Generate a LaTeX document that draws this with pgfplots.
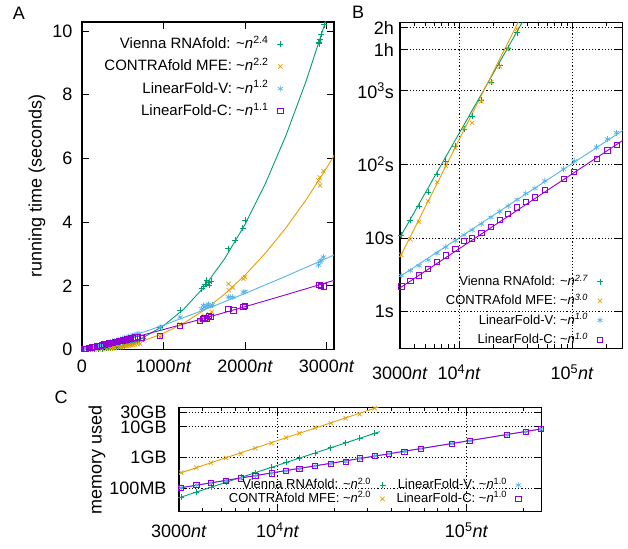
\documentclass[border=0pt]{standalone}
\usepackage{fontspec}
\setmainfont{Liberation Sans}
\usepackage{pgfplots}
\pgfplotsset{compat=1.18}
\definecolor{cV}{HTML}{009E73}
\definecolor{cC}{HTML}{E69F00}
\definecolor{cLV}{HTML}{56B4E9}
\definecolor{cLC}{HTML}{9400D3}
\newcommand\tf{\fontsize{18}{20}\selectfont}
\newcommand\nt{\textit{nt}}
\newcommand\tl{\textasciitilde}
\pgfplotsset{
  base/.style={
    scale only axis, anchor=south west,
    axis line style={line width=1.1pt},
    every tick/.style={black, line width=0.8pt},
    major tick length=7pt, minor tick length=4pt,
    tick label style={font=\tf, inner sep=0pt},
    label style={font=\tf},
    legend plot pos=right, legend cell align=right,
  },
  fitline/.style={line width=0.9pt, no marks, forget plot},
  limg/.style={legend image code/.code={\path[draw=none,fill=none] (0pt,0pt) -- (14pt,0pt); \draw[##1, only marks] plot coordinates {(11pt,0pt)};}},
  sV/.style={only marks, mark=+, color=cV, mark size=3pt, mark options={line width=0.7pt}, limg},
  sC/.style={only marks, mark=x, color=cC, mark size=3pt, mark options={line width=0.7pt}, limg},
  sLV/.style={only marks, mark=asterisk, color=cLV, mark size=3pt, mark options={line width=0.7pt}, limg},
  sLC/.style={only marks, mark=square, color=cLC, mark size=2.6pt, mark options={line width=0.7pt}, limg},
}
\begin{document}
\begin{tikzpicture}
\useasboundingbox (0,0) rectangle (628pt,548pt);
% ---------------- Panel A ----------------
\begin{axis}[base, at={(82pt,198.5pt)}, width=252pt, height=327.5pt,
  xmin=0, xmax=3090, ymin=0, ymax=10.28,
  xtick={0,1000,2000,3000}, xticklabels={0,1000\nt,2000\nt,3000\nt},
  ytick={0,2,4,6,8,10}, yticklabels={0,2,4,6,8,10},
  x tick label style={anchor=base, yshift=-23.5pt},
  y tick label style={anchor=east, xshift=-9.3pt},
  ylabel={running time (seconds)},
  ylabel style={at={(axis description cs:-0.179,0.5)}, anchor=center},
  legend style={at={(axis description cs:0.799,0.958)}, anchor=north east, draw=none, fill=none,
    inner sep=0pt, outer sep=0pt, row sep=5.2pt, font=\fontsize{15}{17}\selectfont,
    nodes={inner sep=1pt, text height=12pt, text depth=3pt}},
]
\addplot[fitline, cV] coordinates {(0,0)(250,0.027)(500,0.141)(750,0.373)(1000,0.745)(1250,1.272)(1500,1.971)(1750,2.853)(2000,3.930)(2250,5.215)(2500,6.714)(2750,8.440)(3000,10.4)};
\addplot[sV] coordinates {(60,0.003)(100,0.005)(150,0.01)(200,0.015)(250,0.025)(300,0.035)(325,0.04)(350,0.05)(375,0.06)(400,0.07)(425,0.08)(450,0.09)(475,0.1)(500,0.12)(525,0.14)(550,0.16)(575,0.18)(600,0.2)(625,0.22)(650,0.25)(675,0.27)(700,0.3)(752,0.34)(957,0.68)(1202,1.23)(1469,1.91)(1490,1.97)(1510,2.05)(1530,2.17)(1545,2.1)(1562,2.01)(1580,2.15)(1795,3.17)(1877,3.43)(1971,3.80)(2000,4.06)(2900,9.65)(2910,9.6)(2920,9.75)(2930,9.9)(2970,10.2)};
\addlegendentry{Vienna RNAfold: \tl\textit{n}\textsuperscript{2.4}}
\addplot[fitline, cC] coordinates {(0,0)(250,0.024)(500,0.111)(750,0.27)(1000,0.508)(1250,0.831)(1500,1.240)(1750,1.741)(2000,2.336)(2250,3.027)(2500,3.817)(2750,4.707)(3000,5.70)(3100,6.13)};
\addplot[sC] coordinates {(100,0.002)(150,0.005)(200,0.008)(250,0.015)(300,0.025)(350,0.035)(375,0.04)(400,0.05)(450,0.065)(475,0.075)(500,0.085)(525,0.1)(550,0.11)(575,0.12)(600,0.13)(625,0.14)(650,0.16)(680,0.17)(712,0.18)(957,0.39)(1202,0.79)(1448,0.91)(1480,1.0)(1500,1.05)(1530,0.97)(1560,1.1)(1590,1.18)(1795,2.06)(1800,1.86)(1849,1.94)(1979,2.22)(2000,2.27)(2900,5.3)(2915,5.4)(2920,5.15)(2960,5.6)};
\addlegendentry{CONTRAfold MFE: \tl\textit{n}\textsuperscript{2.2}}
\addplot[fitline, cLV] coordinates {(0,0)(100,0.048)(250,0.145)(500,0.334)(750,0.543)(1000,0.766)(1500,1.246)(2000,1.76)(2500,2.300)(3000,2.863)(3100,2.978)};
\addplot[sLV] coordinates {(30,0.02)(60,0.04)(75,0.05)(100,0.06)(125,0.08)(150,0.09)(175,0.1)(200,0.12)(225,0.13)(250,0.15)(275,0.17)(300,0.19)(325,0.2)(350,0.22)(375,0.25)(400,0.26)(425,0.28)(450,0.3)(475,0.31)(500,0.34)(525,0.37)(550,0.38)(575,0.41)(600,0.42)(625,0.44)(650,0.46)(675,0.48)(700,0.5)(957,0.70)(1202,1.02)(1469,1.28)(1489,1.38)(1510,1.32)(1530,1.38)(1550,1.42)(1580,1.35)(1600,1.4)(1795,1.65)(1816,1.64)(1849,1.64)(1979,1.80)(2000,1.82)(2900,2.65)(2920,2.75)(2930,2.8)(2960,2.9)};
\addlegendentry{LinearFold-V: \tl\textit{n}\textsuperscript{1.2}}
\addplot[fitline, cLC] coordinates {(0,0)(100,0.050)(250,0.137)(500,0.293)(750,0.457)(1000,0.627)(1500,0.980)(2000,1.344)(2500,1.718)(3000,2.10)(3100,2.177)};
\addplot[sLC] coordinates {(20,0.01)(35,0.02)(50,0.03)(80,0.05)(100,0.06)(120,0.07)(140,0.08)(160,0.09)(180,0.1)(200,0.11)(225,0.12)(250,0.14)(275,0.16)(300,0.17)(325,0.19)(350,0.2)(375,0.22)(400,0.23)(425,0.25)(450,0.26)(475,0.27)(500,0.29)(525,0.31)(550,0.32)(575,0.34)(600,0.35)(625,0.37)(650,0.38)(680,0.4)(731,0.36)(957,0.44)(1202,0.75)(1448,0.91)(1480,0.95)(1500,1.0)(1530,0.97)(1560,1.05)(1580,1.02)(1795,1.28)(1857,1.23)(1979,1.33)(2000,1.36)(2910,2.03)(2930,2.0)(2970,1.98)};
\addlegendentry{LinearFold-C: \tl\textit{n}\textsuperscript{1.1}}
\end{axis}
% ---------------- Panel B ----------------
\begin{axis}[base, at={(400pt,199.7pt)}, width=222.7pt, height=326pt,
  xmode=log, ymode=log, xmin=3000, xmax=280000, ymin=0.318, ymax=8470,
  xtick={3000,10000,100000}, xticklabels={3000\nt,10\textsuperscript{4}\nt,10\textsuperscript{5}\nt},
  minor xtick={4000,5000,6000,7000,8000,9000,20000,30000,40000,50000,60000,70000,80000,90000,200000},
  ytick={1,10,100,1000,3600,7200}, yticklabels={1s,10s,10\textsuperscript{2}s,10\textsuperscript{3}s,1h,2h},
  minor ytick={},
  grid=major, major grid style={black, line width=0.7pt, dash pattern=on 1.2pt off 2pt},
  x tick label style={anchor=base, yshift=-31.7pt},
  y tick label style={anchor=east, xshift=-6pt},
  legend style={at={(axis description cs:0.9115,0.2275)}, anchor=north east, draw=none, fill=none,
    inner sep=0pt, outer sep=0pt, row sep=4.3pt, font=\fontsize{13}{15}\selectfont,
    nodes={inner sep=1pt, text height=10.5pt, text depth=2.5pt}},
]
\addplot[fitline, cV] coordinates {(3000,10.2)(40000,11100)};
\addplot[sV] coordinates {(3083,11.0)(3707,17.5)(4426,27)(5321,42)(6383,73)(7621,110)(9268,175)(11070,297)(13030,450)(15740,748)(19100,1295)(22910,2180)(27160,3780)(32580,6140)};
\addlegendentry{Vienna RNAfold: \tl\textit{n}\textsuperscript{\itshape 2.7}}
\addplot[fitline, cC] coordinates {(3000,5.5)(40000,14800)};
\addplot[sC] coordinates {(3083,5.9)(3707,9.6)(4426,16.6)(5321,31.6)(6383,57.6)(7621,94.9)(9268,166)(11070,310)(13030,366)(15740,717)(19100,1295)(22910,2130)(27160,3660)(32580,6880)};
\addlegendentry{CONTRAfold MFE: \tl\textit{n}\textsuperscript{\itshape 3.0}}
\addplot[fitline, cLV] coordinates {(3000,3.0)(280000,288)};
\addplot[sLV] coordinates {(3083,3.1)(3707,3.6)(4426,4.2)(5321,5.0)(6383,6.2)(7621,7.5)(9268,9.2)(11070,11.0)(13030,12.8)(15740,15.5)(19100,19.0)(22910,22.7)(27160,27.1)(32580,33.3)(38900,40.2)(46770,47)(57280,59.5)(83750,86.4)(104200,111)(164100,171)(205100,220)(246600,268)};
\addlegendentry{LinearFold-V: \tl\textit{n}\textsuperscript{\itshape 1.0}}
\addplot[fitline, cLC] coordinates {(3000,2.1)(280000,211)};
\addplot[sLC] coordinates {(3083,2.2)(3707,2.6)(4426,3.1)(5321,3.8)(6383,4.7)(7621,5.8)(9268,7.1)(11070,9.1)(13030,9.9)(15740,11.8)(19100,14.2)(22910,17.5)(27160,21.1)(32580,26)(38900,31)(46770,35.5)(57280,44.5)(83750,64)(104200,78.7)(164100,119)(205100,155)(246600,185)};
\addlegendentry{LinearFold-C: \tl\textit{n}\textsuperscript{\itshape 1.0}}
\end{axis}
% ---------------- Panel C ----------------
\begin{axis}[base, at={(179pt,36.3pt)}, width=362.7pt, height=104.4pt,
  xmode=log, ymode=log, xmin=3000, xmax=250000, ymin=0.0177, ymax=43,
  xtick={3000,10000,100000}, xticklabels={3000\nt,10\textsuperscript{4}\nt,10\textsuperscript{5}\nt},
  minor xtick={4000,5000,6000,7000,8000,9000,20000,30000,40000,50000,60000,70000,80000,90000,200000},
  ytick={0.1,1,10,30}, yticklabels={100MB,1GB,10GB,30GB},
  minor ytick={},
  grid=major, major grid style={black, line width=0.7pt, dash pattern=on 1.2pt off 2pt},
  x tick label style={anchor=base, yshift=-26pt},
  y tick label style={anchor=east, xshift=-12.3pt},
  ylabel={memory used},
  ylabel style={at={(axis description cs:-0.226,0.5)}, anchor=center},
  legend columns=2,
  legend style={at={(axis description cs:0.944,0.312)}, anchor=north east, draw=none, fill=none,
    inner sep=0pt, outer sep=0pt, row sep=1.7pt, font=\fontsize{13}{15}\selectfont,
    nodes={inner sep=0.5pt, text height=9pt, text depth=2pt},
    /tikz/every even column/.append style={column sep=10.5pt}},
]
\addplot[fitline, cV] coordinates {(3000,0.050)(34700,6.98)};
\addplot[sV] coordinates {(3083,0.0528)(3707,0.0767)(4426,0.110)(5321,0.159)(6383,0.230)(7621,0.329)(9268,0.489)(11070,0.698)(13030,0.972)(15740,1.42)(19100,2.10)(22910,3.04)(27160,4.29)(32580,6.20)};
\addlegendentry{Vienna RNAfold: \tl\textit{n}\textsuperscript{2.0}}
\addplot[fitline, cLV] coordinates {(3000,0.1035)(250000,8.6)};
\addplot[sLV] coordinates {(3083,0.106)(3707,0.130)(4426,0.154)(5321,0.179)(6383,0.214)(7621,0.255)(9268,0.312)(11070,0.370)(13030,0.430)(15740,0.538)(19100,0.625)(22910,0.741)(27160,0.957)(32580,1.135)(38900,1.349)(46770,1.566)(57280,1.96)(83750,2.85)(104200,3.48)(164100,5.34)(205100,6.83)(246600,8.36)};
\addlegendentry{LinearFold-V: \tl\textit{n}\textsuperscript{1.0}}
\addplot[fitline, cC] coordinates {(3000,0.308)(40000,61)};
\addplot[sC] coordinates {(3083,0.326)(3707,0.473)(4426,0.688)(5321,0.978)(6383,1.35)(7621,2.02)(9268,2.94)(11070,4.46)(13030,6.2)(15740,9.42)(19100,13.1)(22910,19.0)(27160,25.6)(32580,40.2)};
\addlegendentry{CONTRAfold MFE: \tl\textit{n}\textsuperscript{2.0}}
\addplot[fitline, cLC] coordinates {(3000,0.1035)(250000,8.6)};
\addplot[sLC] coordinates {(3083,0.106)(3707,0.130)(4426,0.154)(5321,0.179)(6383,0.214)(7621,0.255)(9268,0.312)(11070,0.370)(13030,0.430)(15740,0.538)(19100,0.625)(22910,0.741)(27160,0.957)(32580,1.135)(38900,1.349)(46770,1.566)(57280,1.96)(83750,2.85)(104200,3.48)(164100,5.34)(205100,6.83)(246600,8.36)};
\addlegendentry{LinearFold-C: \tl\textit{n}\textsuperscript{1.0}}
\end{axis}
% panel letters
\node[font=\tf] at (19pt,535pt) {A};
\node[font=\tf] at (358pt,536pt) {B};
\node[font=\tf] at (61pt,151pt) {C};
\end{tikzpicture}
\end{document}
